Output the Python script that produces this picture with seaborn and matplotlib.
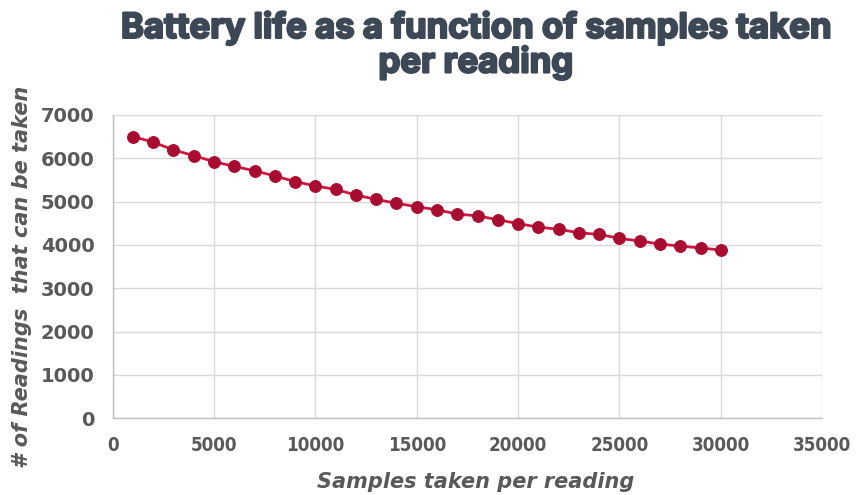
import matplotlib
matplotlib.use("Agg")
import matplotlib.pyplot as plt
import matplotlib.patheffects as pe
import seaborn as sns
import pandas as pd

samples = [1000, 2000, 3000, 4000, 5000, 6000, 7000, 8000, 9000, 10000,
           11000, 12000, 13000, 14000, 15000, 16000, 17000, 18000, 19000, 20000,
           21000, 22000, 23000, 24000, 25000, 26000, 27000, 28000, 29000, 30000]
readings = [6500, 6370, 6190, 6060, 5920, 5810, 5710, 5590, 5460, 5360,
            5280, 5150, 5050, 4960, 4880, 4810, 4710, 4670, 4580, 4490,
            4410, 4360, 4280, 4240, 4150, 4090, 4020, 3970, 3930, 3880]
x_ticks = [0, 5000, 10000, 15000, 20000, 25000, 30000, 35000]
y_ticks = [0, 1000, 2000, 3000, 4000, 5000, 6000, 7000]

df = pd.DataFrame({"samples": samples, "readings": readings})

sns.set_theme(style="whitegrid")
plt.rcParams['font.family'] = ['DejaVu Sans']

fig = plt.figure(figsize=(8.6, 4.95), dpi=100)
ax = fig.add_axes([0.131, 0.155, 0.825, 0.613])

sns.lineplot(data=df, x="samples", y="readings", ax=ax, color="#d0163c",
             linewidth=2, marker="o", markersize=8.5,
             markerfacecolor="#a80c30", markeredgecolor="#a80c30")

ax.set_xlim(0, 35000)
ax.set_ylim(0, 7000)
ax.set_xticks(x_ticks)
ax.set_yticks(y_ticks)
ax.grid(True, color="#d9d9d9", linewidth=1)
for s in ["top", "right"]:
    ax.spines[s].set_visible(False)
for s in ["left", "bottom"]:
    ax.spines[s].set_color("#bfbfbf")
    ax.spines[s].set_linewidth(1)
ax.tick_params(axis="both", length=0, colors="#595959")

for lab in ax.get_yticklabels():
    lab.set_fontsize(14)
    lab.set_fontweight("bold")
    lab.set_color("#595959")
for lab in ax.get_xticklabels():
    lab.set_fontfamily(["DejaVu Sans"])
    lab.set_fontstretch("condensed")
    lab.set_fontsize(13.5)
    lab.set_fontweight("bold")
    lab.set_color("#595959")
ax.tick_params(axis="x", pad=13)
ax.tick_params(axis="y", pad=13)

ax.set_xlabel("Samples taken per reading", fontsize=15, fontweight="bold",
              fontstyle="italic", color="#595959")
ax.set_ylabel("# of Readings  that can be taken", fontsize=15, fontweight="bold",
              fontstyle="italic", color="#595959")
ax.yaxis.set_label_coords(-0.114, 0.465)
ax.xaxis.set_label_coords(0.512, -0.176)

title_color = "#3d4857"
fig.text(0.553, 0.976, "Battery life as a function of samples taken\nper reading",
         ha="center", va="top", fontsize=25, fontweight="bold",
         family=["Inter", "DejaVu Sans"], color=title_color, linespacing=1.06,
         path_effects=[pe.withStroke(linewidth=1.6, foreground=title_color)])

fig.savefig("out.png", dpi=100)
